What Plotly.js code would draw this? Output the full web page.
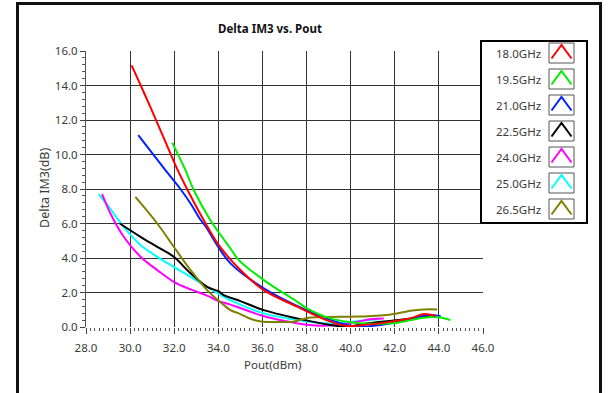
<!DOCTYPE html>
<html>
<head>
<meta charset="utf-8">
<script src="https://cdn.plot.ly/plotly-3.0.1.min.js"></script>
<style>
html,body{margin:0;padding:0;background:#fff;}
#wrap{position:relative;width:608px;height:393px;}
#chart{position:absolute;left:0;top:0;width:608px;height:393px;}
#frame{position:absolute;left:16px;top:2px;width:580px;height:388px;border-left:3px solid #111;border-top:3px solid #111;border-right:3px solid #111;border-bottom:2px solid #666;pointer-events:none;}
</style>
</head>
<body>
<div id="wrap"><div id="chart"></div><div id="frame"></div></div>
<script>
// ---- data ----
const seriesNames = ['18.0GHz','19.5GHz','21.0GHz','22.5GHz','24.0GHz','25.0GHz','26.5GHz'];

const pout180 = [30.07, 30.5, 30.92, 31.5, 32.16, 32.61, 33.34, 34.02, 35.0, 36.06, 37.57, 39.08, 39.84, 40.6, 41.35, 42.0, 42.71, 43.31, 43.84];
const dim180  = [15.17, 13.95, 12.75, 11.04, 9.09, 7.93, 6.19, 4.75, 3.30, 2.14, 1.18, 0.31, 0.06, 0.12, 0.21, 0.35, 0.50, 0.75, 0.64];

const pout195 = [31.91, 32.51, 32.89, 33.64, 34.0, 34.55, 34.93, 36.06, 37.57, 38.0, 39.08, 40.0, 40.6, 41.35, 41.9, 42.71, 43.3, 43.99, 44.52];
const dim195  = [10.69, 9.09, 7.93, 6.19, 5.52, 4.55, 3.88, 2.72, 1.47, 1.10, 0.50, 0.28, 0.21, 0.19, 0.21, 0.40, 0.54, 0.56, 0.40];

const pout210 = [30.37, 31.0, 31.6, 32.28, 32.74, 33.2, 33.44, 34.02, 34.55, 36.06, 37.57, 39.08, 39.84, 40.38, 41.35, 42.71, 43.47, 44.08];
const dim210  = [11.12, 10.08, 9.09, 8.0, 7.16, 6.2, 5.8, 4.6, 3.69, 2.24, 1.22, 0.41, 0.12, 0.02, 0.12, 0.44, 0.69, 0.62];

const pout225 = [29.53, 30.47, 31.23, 31.98, 32.74, 33.49, 34.02, 34.25, 35.0, 36.06, 37.57, 39.08, 39.84, 40.8, 41.95, 42.71, 43.47, 43.7];
const dim225  = [6.0, 5.23, 4.65, 4.07, 3.11, 2.33, 2.06, 1.85, 1.5, 0.98, 0.50, 0.12, 0.02, 0.22, 0.38, 0.50, 0.64, 0.69];

const pout240 = [28.73, 29.11, 29.71, 30.47, 31.23, 31.98, 32.74, 33.49, 34.02, 34.55, 35.0, 36.08, 37.0, 38.0, 39.0, 39.9, 40.9, 41.5];
const dim240  = [7.70, 6.58, 5.23, 4.07, 3.30, 2.62, 2.18, 1.82, 1.50, 1.3, 1.1, 0.62, 0.35, 0.13, 0.08, 0.2, 0.45, 0.5];

const pout250 = [28.58, 29.11, 29.71, 30.47, 31.23, 31.98, 32.74, 33.49, 34.25, 35.0, 36.06, 37.57, 39.08, 39.9, 40.6, 41.3];
const dim250  = [7.70, 6.84, 5.80, 4.75, 4.07, 3.49, 2.91, 2.33, 1.75, 1.3, 0.79, 0.41, 0.21, 0.28, 0.38, 0.45];

const pout265 = [30.24, 31.23, 31.98, 32.74, 33.49, 34.25, 34.55, 35.0, 35.31, 35.7, 36.06, 36.82, 37.4, 37.8, 38.2, 39.0, 40.0, 40.8, 41.5, 41.95, 42.71, 43.31, 43.92];
const dim265  = [7.54, 6.0, 4.65, 3.30, 2.14, 1.27, 0.98, 0.75, 0.55, 0.38, 0.31, 0.29, 0.31, 0.45, 0.55, 0.58, 0.6, 0.62, 0.68, 0.75, 0.94, 1.02, 1.02];

const xTickVals = [28, 30, 32, 34, 36, 38, 40, 42, 44, 46];
const yTickVals = [0, 2, 4, 6, 8, 10, 12, 14, 16];

// ---- styles ----
const seriesColors = ['#ff0000', '#00ee00', '#0022ff', '#000000', '#ff00ff', '#00ffff', '#808000'];
const allX = [pout180, pout195, pout210, pout225, pout240, pout250, pout265];
const allY = [dim180, dim195, dim210, dim225, dim240, dim250, dim265];
const drawOrder = [5, 4, 3, 2, 6, 1, 0];

const traces = drawOrder.map(i => ({
  type: 'scatter', mode: 'lines', name: seriesNames[i],
  x: allX[i], y: allY[i],
  line: {color: seriesColors[i], width: 2, shape: 'spline', smoothing: 1},
  showlegend: false, hoverinfo: 'skip'
}));

const ML = 86, MR = 125, MT = 51, MB = 66, W = 608, H = 393;
const PW = W - ML - MR, PH = H - MT - MB;
const px = v => (v - ML) / PW;
const py = v => (H - MB - v) / PH;

const font = 'Noto Sans, Open Sans, sans-serif';
const txt = '#3a3a3a';

const shapes = [];
const annotations = [];
// legend box
shapes.push({type: 'rect', xref: 'paper', yref: 'paper', x0: px(481), x1: px(587), y0: py(41), y1: py(223),
  line: {color: '#000', width: 2}, fillcolor: '#fff', layer: 'above'});
seriesNames.forEach((name, k) => {
  const top = 43 + 26 * k;
  shapes.push({type: 'rect', xref: 'paper', yref: 'paper', x0: px(549), x1: px(574), y0: py(top), y1: py(top + 20),
    line: {color: '#555', width: 1}, fillcolor: '#fff', layer: 'above'});
  shapes.push({type: 'path', xref: 'paper', yref: 'paper', layer: 'above',
    path: `M ${px(551.5)} ${py(top + 15.5)} L ${px(561.5)} ${py(top + 2)} L ${px(571.5)} ${py(top + 15.5)}`,
    line: {color: seriesColors[k], width: 2}});
  annotations.push({xref: 'paper', yref: 'paper', x: px(494), y: py(top + 10), xanchor: 'left', yanchor: 'middle',
    text: name, showarrow: false, font: {family: font, size: 11.5, color: txt}});
});
// axis titles
annotations.push({xref: 'paper', yref: 'paper', x: px(272), y: py(364), xanchor: 'center', yanchor: 'middle',
  text: 'Pout(dBm)', showarrow: false, font: {family: font, size: 11.5, color: txt}});
annotations.push({xref: 'paper', yref: 'paper', x: px(44), y: py(188), xanchor: 'center', yanchor: 'middle',
  textangle: -90, text: 'Delta IM3(dB)', showarrow: false, font: {family: font, size: 12.5, color: txt}});

const layout = {
  width: W, height: H,
  margin: {l: ML, r: MR, t: MT, b: MB, pad: 0},
  paper_bgcolor: '#fff', plot_bgcolor: '#fff',
  title: {text: '<b>Delta IM3 vs. Pout</b>', x: 270 / W, xanchor: 'center', xref: 'container',
    y: 1 - 29 / H, yanchor: 'middle', yref: 'container',
    font: {family: font, size: 11.5, color: '#111'}},
  xaxis: {
    range: [28, 46], tickvals: xTickVals, tickformat: '.1f',
    showgrid: true, gridcolor: '#333', gridwidth: 1, zeroline: false,
    showline: false, ticks: 'outside', ticklen: 6, tickcolor: '#444', tickwidth: 1,
    ticklabelstandoff: 4,
    minor: {dtick: 0.2, ticks: 'outside', ticklen: 3, tickcolor: '#555', showgrid: false},
    tickfont: {family: font, size: 11.5, color: txt}
  },
  yaxis: {
    range: [0, 16], tickvals: yTickVals, tickformat: '.1f',
    showgrid: true, gridcolor: '#333', gridwidth: 1, zeroline: false,
    showline: true, linecolor: '#555', linewidth: 1,
    ticks: 'outside', ticklen: 5, tickcolor: '#444', tickwidth: 1,
    minor: {dtick: 0.4, ticks: 'outside', ticklen: 3, tickcolor: '#555', showgrid: false},
    tickfont: {family: font, size: 11.5, color: txt}
  },
  shapes: shapes,
  annotations: annotations
};

Plotly.newPlot('chart', traces, layout, {staticPlot: true, displayModeBar: false});
</script>
</body>
</html>
